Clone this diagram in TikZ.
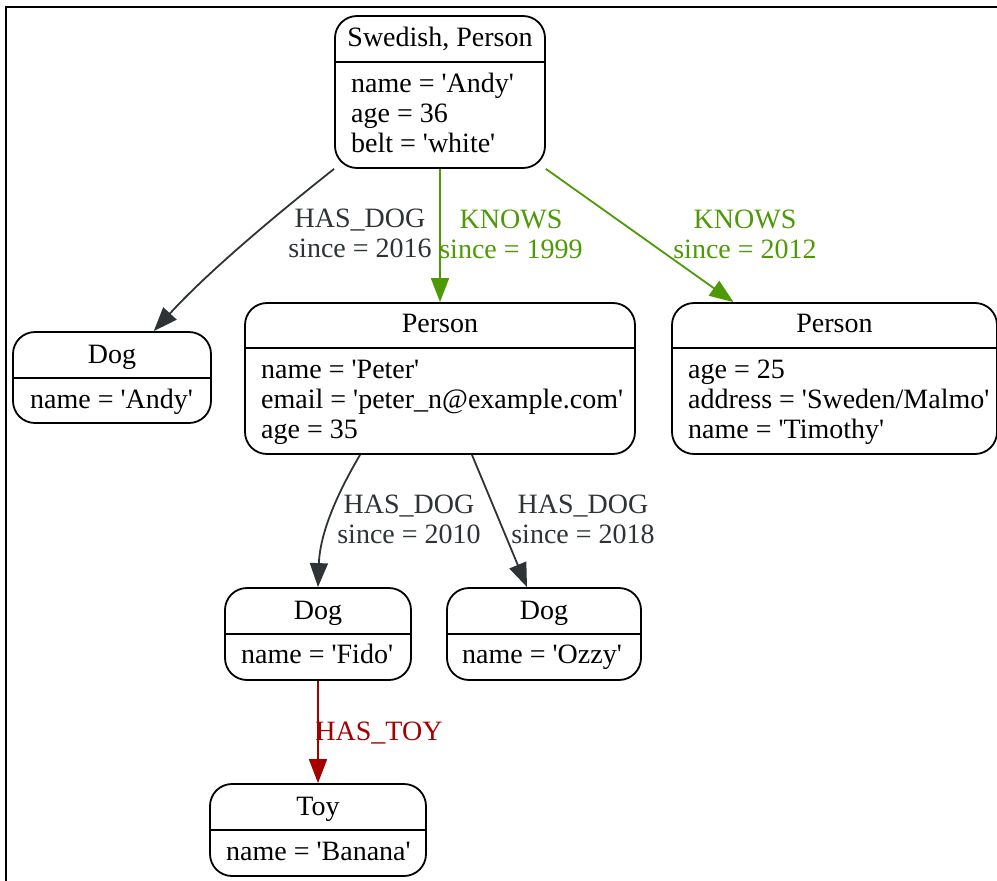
\documentclass[tikz,border=0pt]{standalone}
\usepackage{fontspec}
\newfontfamily\gvfont{Liberation Serif}
\usepackage{tikz}
\usetikzlibrary{arrows.meta}
\definecolor{hasdog}{HTML}{2E3436}
\definecolor{knows}{HTML}{4E9A06}
\definecolor{hastoy}{HTML}{A40000}

\begin{document}
\begin{tikzpicture}[x=1pt,y=-1pt,
        rec/.style={draw,line width=1.8pt,rounded corners=22pt,inner sep=0pt},
        sep/.style={line width=1.8pt},
        txt/.style={font=\gvfont\fontsize{28}{30}\selectfont,inner sep=0pt},
        lbl/.style={txt,align=center,anchor=base},
        rel/.style={line width=1.8pt,-{Triangle[length=24pt,width=18pt]}}]
        \useasboundingbox (0,0) rectangle (997,881);
        \draw[line width=1.8pt] (6,881) -- (6,7) -- (997,7);
        \node[rec,minimum width=210pt,minimum height=152pt] (swede) at (440,92) {};
        \node[rec,minimum width=198pt,minimum height=91pt] (dogandy) at (112,377.5) {};
        \node[rec,minimum width=390pt,minimum height=151pt] (peter) at (440,378.5) {};
        \node[rec,minimum width=325pt,minimum height=151pt] (timothy) at (834.5,378.5) {};
        \node[rec,minimum width=186pt,minimum height=92pt] (fido) at (318,634) {};
        \node[rec,minimum width=194pt,minimum height=92pt] (ozzy) at (544,634) {};
        \node[rec,minimum width=216pt,minimum height=92pt] (toy) at (318,830) {};
        \draw[sep] (swede.west |- 0,62) -- (swede.east |- 0,62);
        \draw[sep] (dogandy.west |- 0,378) -- (dogandy.east |- 0,378);
        \draw[sep] (peter.west |- 0,348) -- (peter.east |- 0,348);
        \draw[sep] (timothy.west |- 0,348) -- (timothy.east |- 0,348);
        \draw[sep] (fido.west |- 0,634) -- (fido.east |- 0,634);
        \draw[sep] (ozzy.west |- 0,634) -- (ozzy.east |- 0,634);
        \draw[sep] (toy.west |- 0,830) -- (toy.east |- 0,830);
        \node[txt,anchor=base] (swede-t) at (440,46) {Swedish, Person};
        \node[txt,anchor=base] (dogandy-t) at (112,363) {Dog};
        \node[txt,anchor=base] (peter-t) at (440,332) {Person};
        \node[txt,anchor=base] (timothy-t) at (834.5,332) {Person};
        \node[txt,anchor=base] (fido-t) at (318,619) {Dog};
        \node[txt,anchor=base] (ozzy-t) at (544,619) {Dog};
        \node[txt,anchor=base] (toy-t) at (318,815) {Toy};
        \foreach \t [count=\i] in {name = 'Andy',age = 36,belt = 'white'}
            \node[txt,anchor=base west] (swede-\i) at (351,62+30*\i) {\t};
        \foreach \t [count=\i] in {name = 'Peter',email = 'peter\_n@example.com',age = 35}
            \node[txt,anchor=base west] (peter-\i) at (261,348+30*\i) {\t};
        \foreach \t [count=\i] in {age = 25,address = 'Sweden/Malmo',name = 'Timothy'}
            \node[txt,anchor=base west] (timothy-\i) at (688,348+30*\i) {\t};
        \node[txt,anchor=base west] (dogandy-1) at (30,408) {name = 'Andy'};
        \node[txt,anchor=base west] (fido-1) at (241,663) {name = 'Fido'};
        \node[txt,anchor=base west] (ozzy-1) at (462,663) {name = 'Ozzy'};
        \node[txt,anchor=base west] (toy-1) at (226,860) {name = 'Banana'};
        \draw[rel,hasdog] (swede.south west) .. controls (272,218) and (207,273) .. (dogandy.48);
        \draw[rel,knows] (swede.south) -- (peter.north);
        \draw[rel,knows] (swede.south east) -- ([xshift=-101pt]timothy.north);
        \draw[rel,hasdog] ([xshift=-80pt]peter.south) .. controls (337,494) and (320,533) .. (fido.north);
        \draw[rel,hasdog] ([xshift=32pt]peter.south) -- ([xshift=-17pt]ozzy.north);
        \draw[rel,hastoy] (fido.south) -- (toy.north);
        \node[lbl,text=hasdog] (l-andy) at (360,257) {HAS\_DOG\\since = 2016};
        \node[lbl,text=knows] (l-peter) at (511,258) {KNOWS\\since = 1999};
        \node[lbl,text=knows] (l-timothy) at (745,258) {KNOWS\\since = 2012};
        \node[lbl,text=hasdog] (l-fido) at (409,543) {HAS\_DOG\\since = 2010};
        \node[lbl,text=hasdog] (l-ozzy) at (583,543) {HAS\_DOG\\since = 2018};
        \node[lbl,text=hastoy] (l-toy) at (379,740) {HAS\_TOY};
    \end{tikzpicture}
\end{document}
